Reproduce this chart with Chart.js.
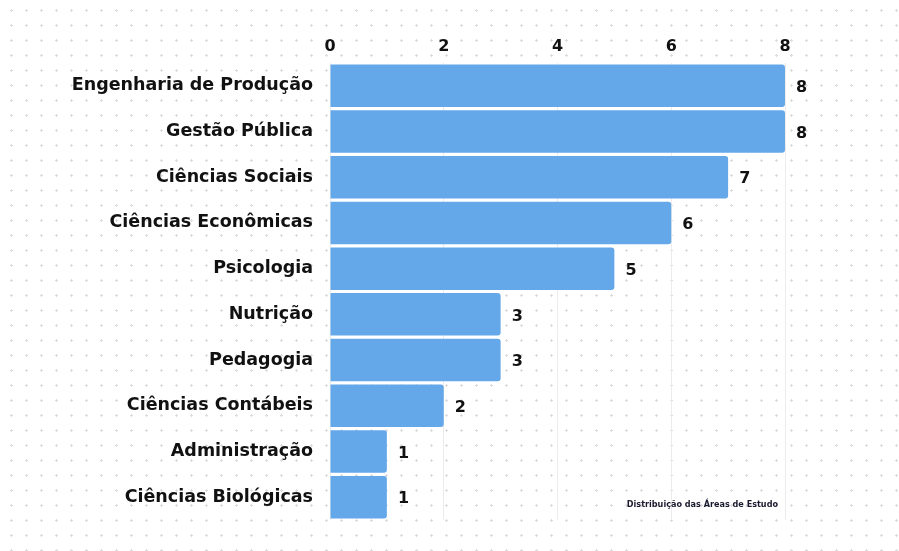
<!DOCTYPE html>
<html>
<head>
<meta charset="utf-8">
<script src="https://cdn.jsdelivr.net/npm/chart.js"></script>
<style>
  html, body {
    margin: 0;
    padding: 0;
    width: 899px;
    height: 551px;
    overflow: hidden;
    background-color: #ffffff;
    background-image: radial-gradient(#dcdcdc 1px, transparent 1.4px);
    background-size: 15px 15px;
    background-position: 4px 3px;
  }
  #wrap { position: relative; width: 899px; height: 551px; }
</style>
</head>
<body>
<div id="wrap"><canvas id="areasChart" width="899" height="551"></canvas></div>
<script>
// Data
const categories = [
  'Engenharia de Produção',
  'Gestão Pública',
  'Ciências Sociais',
  'Ciências Econômicas',
  'Psicologia',
  'Nutrição',
  'Pedagogia',
  'Ciências Contábeis',
  'Administração',
  'Ciências Biológicas'
];
const counts = [8, 8, 7, 6, 5, 3, 3, 2, 1, 1];
const xTicks = [0, 2, 4, 6, 8];
const footNote = 'Distribuição das Áreas de Estudo';

const fontFamily = '"DejaVu Sans", Inter, sans-serif';

// value labels at the end of each bar + small caption in the corner
const extras = {
  id: 'extras',
  afterDatasetsDraw(chart) {
    const ctx = chart.ctx;
    const meta = chart.getDatasetMeta(0);
    ctx.save();
    ctx.fillStyle = '#111';
    ctx.font = 'bold 16px ' + fontFamily;
    ctx.textAlign = 'left';
    ctx.textBaseline = 'middle';
    meta.data.forEach((bar, i) => {
      ctx.fillText(counts[i], bar.x + 11, bar.y + 2);
    });
    const area = chart.chartArea;
    ctx.font = 'bold 9px "DejaVu Sans Condensed", "DejaVu Sans", sans-serif';
    ctx.textAlign = 'right';
    ctx.fillStyle = '#1a1a2e';
    ctx.fillText(footNote, area.right - 7, area.bottom - 15);
    ctx.restore();
  }
};

const ctx = document.getElementById('areasChart').getContext('2d');
new Chart(ctx, {
  type: 'bar',
  data: {
    labels: categories,
    datasets: [{
      data: counts,
      backgroundColor: '#65a8e9',
      borderRadius: { topRight: 3, bottomRight: 3 },
      borderSkipped: false,
      barPercentage: 0.93,
      categoryPercentage: 1.0
    }]
  },
  options: {
    indexAxis: 'y',
    responsive: false,
    animation: false,
    devicePixelRatio: 1,
    layout: { padding: { left: 0, right: 114, top: 30, bottom: 31 } },
    plugins: {
      legend: { display: false },
      tooltip: { enabled: false }
    },
    scales: {
      x: {
        position: 'top',
        min: 0,
        max: 8,
        afterBuildTicks: (scale) => { scale.ticks = xTicks.map(v => ({ value: v })); },
        grid: { color: '#ececec', lineWidth: 1, drawTicks: false },
        border: { display: false },
        ticks: {
          color: '#111',
          padding: 7,
          font: { family: fontFamily, size: 16, weight: 'bold' }
        },
        afterFit: (scale) => { scale.height = 33; }
      },
      y: {
        grid: { display: false },
        border: { display: false },
        ticks: {
          color: '#111',
          padding: 9,
          font: { family: fontFamily, size: 17.5, weight: 'bold' }
        },
        afterFit: (scale) => { scale.width = 330; }
      }
    }
  },
  plugins: [extras]
});
</script>
</body>
</html>
